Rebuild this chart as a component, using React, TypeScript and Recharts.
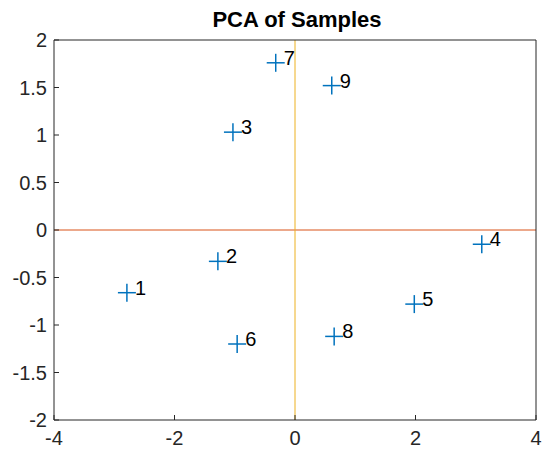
import React from 'react';
import { ScatterChart, Scatter, XAxis, YAxis, ReferenceLine } from 'recharts';

const sampleLabels = ['1', '2', '3', '4', '5', '6', '7', '8', '9'];
const pc1 = [-2.79, -1.28, -1.03, 3.1, 1.98, -0.96, -0.32, 0.65, 0.61];
const pc2 = [-0.66, -0.33, 1.03, -0.15, -0.78, -1.2, 1.76, -1.12, 1.52];
const xTicks = [-4, -2, 0, 2, 4];
const yTicks = [-2, -1.5, -1, -0.5, 0, 0.5, 1, 1.5, 2];
const chartTitle = 'PCA of Samples';

const data = sampleLabels.map((label, i) => ({ x: pc1[i], y: pc2[i], label }));

const FONT = '"Liberation Sans", Arial, Helvetica, sans-serif';
const AXIS = '#262626';

const PlusMarker = (props: any) => {
  const { cx, cy, payload } = props;
  if (cx == null || cy == null) return null;
  const r = 9;
  return (
    <g>
      <line x1={cx - r} x2={cx + r} y1={cy} y2={cy} stroke="#0072BD" strokeWidth={1.5} />
      <line x1={cx} x2={cx} y1={cy - r} y2={cy + r} stroke="#0072BD" strokeWidth={1.5} />
      <text x={cx + 8} y={cy + 2} fontSize={20} fontFamily={FONT} fill="#000">
        {payload.label}
      </text>
    </g>
  );
};

const NoShape = () => <g />;

export default function App() {
  const tickStyle = { fontSize: 20, fontFamily: FONT, fill: AXIS };
  return (
    <div style={{ position: 'relative', width: 543, height: 455, background: '#fff' }}>
      <style>{'body{margin:0;background:#fff}'}</style>
      <div
        style={{
          position: 'absolute',
          left: 0,
          top: 9,
          width: 594,
          textAlign: 'center',
          fontFamily: FONT,
          fontWeight: 'bold',
          fontSize: 22,
          lineHeight: '22px',
          color: '#000',
        }}
      >
        {chartTitle}
      </div>
      <ScatterChart width={543} height={455} margin={{ top: 39, right: 6, bottom: 0, left: 0 }}>
        <XAxis
          type="number"
          dataKey="x"
          domain={[-4, 4]}
          ticks={xTicks}
          allowDataOverflow
          height={35}
          tickSize={-5}
          tickMargin={16}
          stroke={AXIS}
          tick={tickStyle}
          interval={0}
        />
        <XAxis
          xAxisId="top"
          orientation="top"
          type="number"
          dataKey="x"
          domain={[-4, 4]}
          ticks={xTicks}
          allowDataOverflow
          height={1}
          tickSize={-5}
          tick={false}
          stroke={AXIS}
          interval={0}
        />
        <YAxis
          type="number"
          dataKey="y"
          domain={[-2, 2]}
          ticks={yTicks}
          allowDataOverflow
          width={54}
          tickSize={-5}
          tickMargin={12}
          stroke={AXIS}
          tick={tickStyle}
          interval={0}
        />
        <YAxis
          yAxisId="right"
          orientation="right"
          type="number"
          dataKey="y"
          domain={[-2, 2]}
          ticks={yTicks}
          allowDataOverflow
          width={1}
          tickSize={-5}
          tick={false}
          stroke={AXIS}
          interval={0}
        />
        <ReferenceLine y={0} stroke="#D95319" strokeWidth={1} />
        <ReferenceLine x={0} stroke="#EDB120" strokeWidth={1} />
        <Scatter
          data={data}
          xAxisId="top"
          yAxisId="right"
          shape={NoShape}
          isAnimationActive={false}
        />
        <Scatter data={data} shape={PlusMarker} isAnimationActive={false} />
      </ScatterChart>
    </div>
  );
}
